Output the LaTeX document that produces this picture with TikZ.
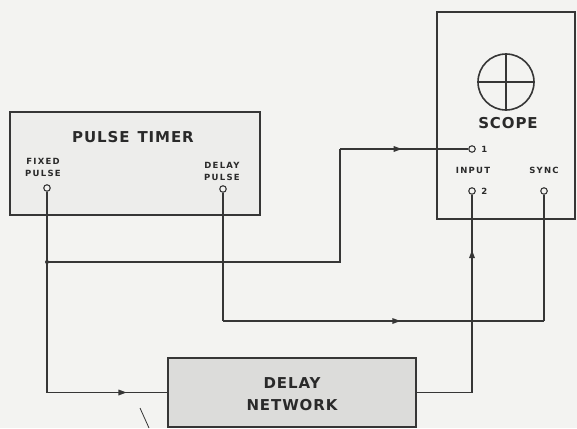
\documentclass[tikz,border=0pt]{standalone}
\usepackage{fontspec}
\setmainfont{DejaVu Sans}
\newfontfamily\stencil[LetterSpace=6]{DejaVu Sans}
\newfontfamily\stenciltag[LetterSpace=15]{DejaVu Sans}
\usetikzlibrary{positioning, calc, decorations.markings}
\definecolor{ScanPaper}{HTML}{F3F3F1}
\definecolor{PanelGray}{HTML}{EDEDEB}
\definecolor{BoxGray}{HTML}{DCDCDA}
\definecolor{InkGray}{HTML}{363636}
\definecolor{InkDark}{HTML}{2A2A2A}

\tikzset{
  wire/.style={InkGray, line width=1.1pt},
  unit/.style={draw=InkGray, line width=2.4pt, inner sep=0pt},
  term/.style={circle, draw=InkGray, fill=ScanPaper, line width=1.1pt, minimum size=6.5pt, inner sep=0pt},
  flowmark/.style={postaction={decorate}, decoration={markings, mark=at position #1 with {\fill[InkGray] (4pt,0pt) -- (-4pt,3pt) -- (-4pt,-3pt) -- cycle;}}},
  tag/.style={InkDark, font=\stenciltag\bfseries\fontsize{8.5}{12}\selectfont, align=center},
  title/.style={InkDark, font=\stencil\bfseries\fontsize{15}{17}\selectfont, align=center}
}

\begin{document}
\begin{tikzpicture}[x=1pt, y=-1pt]
  \fill[ScanPaper] (0,0) rectangle (577,428);
  \useasboundingbox (0,0) rectangle (577,428);

  \node[unit, fill=PanelGray, minimum width=250pt, minimum height=103pt] (timer) at (135,163.5) {};
  \node[title] (timerlbl) at (133,137) {PULSE\hspace{8pt}TIMER};
  \node[tag] (fixedlbl) at (43,167) {FIXED\\PULSE};
  \node[tag] (dlylbl) at (222,171) {DELAY\\PULSE};

  \node[unit, fill=ScanPaper, minimum width=138pt, minimum height=207pt] (scope) at (506,115.5) {};
  \node[circle, draw=InkGray, line width=1.6pt, minimum size=56pt] (screen) at (506,82) {};
  \draw[InkGray, line width=1.3pt] (screen.north) -- (screen.south) (screen.west) -- (screen.east);
  \node[title] (scopelbl) at (508,123) {SCOPE};
  \node[tag] (inputlbl) at (473,170) {INPUT};
  \node[tag] (synclbl) at (544,170) {SYNC};

  \node[unit, fill=BoxGray, minimum width=248pt, minimum height=69pt] (delay) at (292,392.5) {};
  \node[title] (delaylbl) at (292,394) {DELAY\\[5pt]NETWORK};

  \foreach \name/\px/\py in {fixed/47/188, dly/223/189, inA/472/149, inB/472/191, sync/544/191}
    \node[term] (\name) at (\px,\py) {};
  \node[tag, right=2pt of inA] (onelbl) {1};
  \node[tag, right=2pt of inB] (twolbl) {2};

  \draw[wire] (fixed) -- (fixed |- delay.west) coordinate (fixcorner);
  \draw[wire, flowmark=0.63] (fixcorner) -- (delay.west);
  \coordinate (tap) at (fixed |- 0,262);
  \fill[InkGray] (tap) circle (2pt);
  \draw[wire] (tap) -- (340,262) coordinate (bendA) -- (bendA |- inA) coordinate (bendB);
  \draw[wire, flowmark=0.45] (bendB) -- (inA);

  \draw[wire] (dly) -- (dly |- 0,321) coordinate (bendC);
  \draw[wire, flowmark=0.54] (bendC) -- (sync |- bendC) coordinate (bendD);
  \draw[wire] (bendD) -- (sync);

  \draw[wire] (delay.east) -- (inB |- delay.east) coordinate (bendE);
  \draw[wire, flowmark=0.7] (bendE) -- (inB);

  \draw[InkGray, line width=0.8pt] (140,408) -- (149,428);
\end{tikzpicture}
\end{document}
